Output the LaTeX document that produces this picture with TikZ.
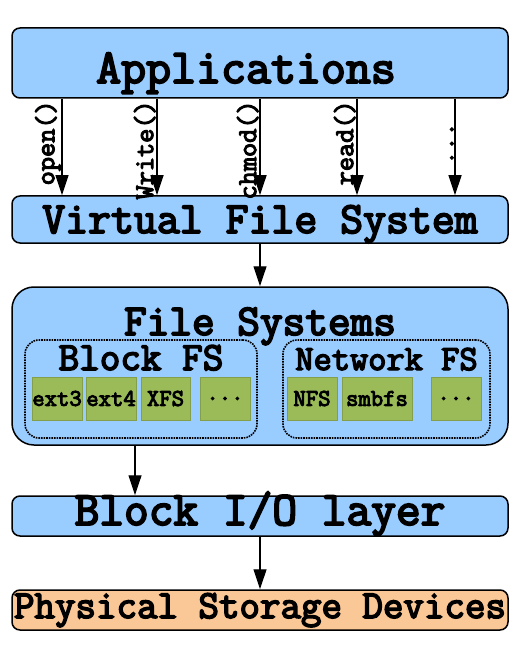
\documentclass[tikz,border=0pt]{standalone}
\usepackage{fontspec}
\setmonofont{Latin Modern Mono}[AutoFakeBold=4]
\usepackage{xcolor}
\usetikzlibrary{arrows.meta, positioning}
\definecolor{layerblue}{RGB}{153,204,255}
\definecolor{fsgreen}{RGB}{155,187,89}
\definecolor{devorange}{RGB}{250,200,150}
\newcommand\fsz[1]{\fontsize{#1}{#1}\selectfont}
\newcommand\mdots{...}

\begin{document}
\begin{tikzpicture}[x=1pt,y=-1pt,
  layer/.style={draw, line width=1.5pt, fill=layerblue, rounded corners=8pt,
    minimum width=496pt, inner sep=0pt, text depth=0pt, font=\ttfamily\bfseries},
  group/.style={draw, densely dotted, line width=1.6pt, rounded corners=14pt,
    minimum height=98pt, inner sep=0pt},
  grouptitle/.style={inner sep=0pt, anchor=base, font=\ttfamily\bfseries},
  fsbox/.style={fill=fsgreen, draw=fsgreen!85!black, line width=0.4pt,
    minimum height=43pt, inner sep=0pt, font=\ttfamily\bfseries\fsz{24}},
  call/.style={-{Triangle[width=13pt,length=20pt]}, line width=1.2pt},
  callname/.style={rotate=90, anchor=south east, inner sep=1pt,
    font=\ttfamily\bfseries\fsz{27.5}}]
  \useasboundingbox (0,0) rectangle (526,652);
  % layers of the stack, top to bottom
  \node[layer, minimum height=70pt, text height=40pt, font=\ttfamily\bfseries\fsz{48.5}] (apps) at (260,63) {Applications\rule{28pt}{0pt}};
  \node[layer, minimum height=47pt, text height=27pt, font=\ttfamily\bfseries\fsz{44.5}] (vfs) at (260,219.5) {Virtual File System};
  \node[layer, minimum height=158pt, rounded corners=22pt] (fs) at (260,366) {};
  \node[grouptitle, font=\ttfamily\bfseries\fsz{44}] (fstitle) at (260,335) {File Systems};
  \node[layer, minimum height=40pt, text height=18pt, font=\ttfamily\bfseries\fsz{48}] (bio) at (260,516) {Block I/O layer};
  \node[layer, minimum height=40pt, text height=16pt, inner xsep=-3pt, fill=devorange, font=\ttfamily\bfseries\fsz{39.8}] (dev) at (260,610) {Physical Storage Devices};
  % the two kinds of file systems
  \node[group, minimum width=232pt] (blockfs) at (141,389) {};
  \node[grouptitle, font=\ttfamily\bfseries\fsz{40}] (blocktitle) at (141,370) {Block FS};
  \node[group, minimum width=207pt] (netfs) at (386.5,389) {};
  \node[grouptitle, font=\ttfamily\bfseries\fsz{35.4}] (nettitle) at (386.5,370) {Network FS};
  \foreach \name/\txt/\cx/\w in {ext3/ext3/57/50, ext4/ext4/111/50, xfs/XFS/165.5/49,
      moreb/\mdots/225/50, nfs/NFS/312/50, smbfs/smbfs/377/70, moren/\mdots/456/50}
    \node[fsbox, minimum width=\w pt] (\name) at (\cx,398.5) {\txt};
  % system calls
  \foreach \i/\x/\lbl in {1/62/open(), 2/157/Write(), 3/260/chmod(), 4/357/read(), 5/455/{\mdots\rule{22pt}{0pt}}}{
    \pgfmathsetmacro{\dx}{\x-260}
    \draw[call] ([xshift=\dx pt]apps.south) node[callname] (call\i) {\lbl}
      -- ([xshift=\dx pt]vfs.north);
  }
  \draw[call] (vfs.south) -- (fs.north);
  \draw[call] ([xshift=-125pt]fs.south) -- ([xshift=-125pt]bio.north);
  \draw[call] (bio.south) -- (dev.north);
\end{tikzpicture}
\end{document}
